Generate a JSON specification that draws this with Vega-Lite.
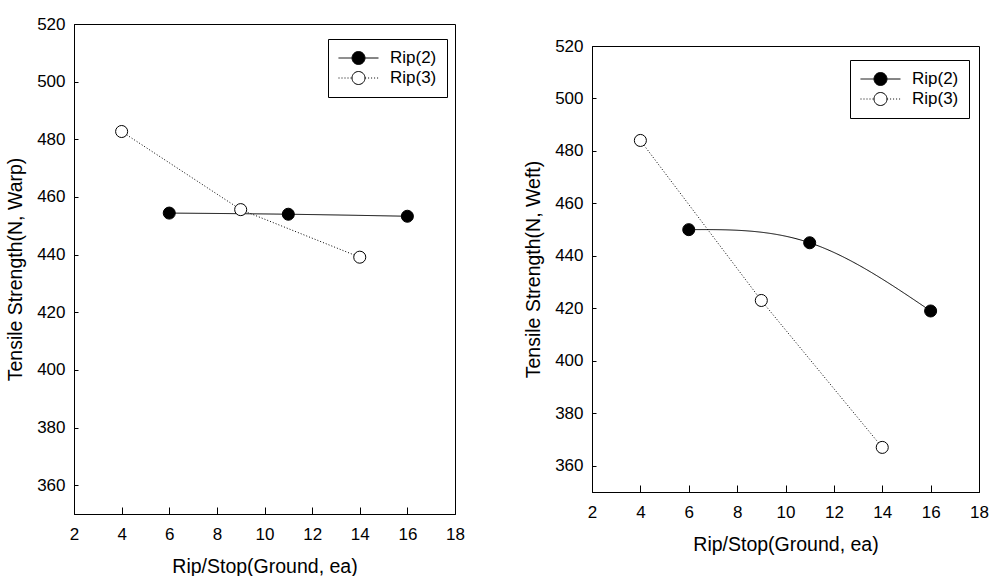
{
  "$schema": "https://vega.github.io/schema/vega-lite/v6.json",
  "padding": {"left": 5, "top": 14, "right": 0, "bottom": 0},
  "background": "white",
  "spacing": 58,
  "center": true,
  "config": {
    "view": {"stroke": "black", "strokeWidth": 1},
    "font": "Liberation Sans",
    "axis": {
      "grid": false,
      "domainColor": "black",
      "tickColor": "black",
      "labelColor": "black",
      "titleColor": "black",
      "labelFont": "Liberation Sans",
      "titleFont": "Liberation Sans",
      "labelFontSize": 17,
      "titleFontSize": 19.5,
      "titleFontWeight": "normal",
      "labelFlush": false,
      "labelOverlap": false
    },
    "axisX": {"tickSize": -7, "labelPadding": 19, "titlePadding": 15},
    "axisY": {"tickSize": -4, "labelPadding": 13, "titlePadding": 11},
    "legend": {
      "labelFont": "Liberation Sans",
      "labelFontSize": 17,
      "labelColor": "black",
      "symbolSize": 1600,
      "symbolStrokeWidth": 1,
      "symbolStrokeColor": "black",
      "symbolOpacity": 1,
      "clipHeight": 18,
      "rowPadding": 2,
      "labelOffset": 11,
      "padding": 10
    }
  },
  "resolve": {
    "scale": {"x": "independent", "y": "independent", "fill": "independent", "strokeDash": "independent"},
    "legend": {"fill": "independent", "strokeDash": "independent"}
  },
  "hconcat": [
    {
      "width": 381,
      "height": 490,
      "data": {"values": [
        {"x": 6, "y": 454.4, "series": "Rip(2)", "marker": "Rip(2)"},
        {"x": 11, "y": 454.0, "series": "Rip(2)", "marker": "Rip(2)"},
        {"x": 16, "y": 453.3, "series": "Rip(2)", "marker": "Rip(2)"},
        {"x": 4, "y": 482.7, "series": "Rip(3)", "marker": "Rip(3)"},
        {"x": 9, "y": 455.6, "series": "Rip(3)", "marker": "Rip(3)"},
        {"x": 14, "y": 439.1, "series": "Rip(3)", "marker": "Rip(3)"}
      ]},
      "encoding": {
        "x": {"field": "x", "type": "quantitative",
              "scale": {"domain": [2, 18], "nice": false, "zero": false},
              "axis": {"values": [2, 4, 6, 8, 10, 12, 14, 16, 18], "title": "Rip/Stop(Ground, ea)"}},
        "y": {"field": "y", "type": "quantitative",
              "scale": {"domain": [350, 520], "nice": false, "zero": false},
              "axis": {"values": [360, 380, 400, 420, 440, 460, 480, 500, 520], "title": "Tensile Strength(N, Warp)"}}
      },
      "layer": [
        {
          "transform": [{"filter": "datum.series === 'Rip(2)'"}],
          "mark": {"type": "line", "color": "black", "strokeWidth": 1, "interpolate": "natural"},
          "encoding": {
            "strokeDash": {"field": "series", "type": "nominal",
              "scale": {"range": [[1, 0], [1, 2]]},
              "legend": {"title": null, "orient": "none", "legendX": 254, "legendY": 15,
                         "symbolType": "M-1,0H-0.33M0.33,0H1", "strokeColor": "black"}}
          }
        },
        {
          "transform": [{"filter": "datum.series === 'Rip(3)'"}],
          "mark": {"type": "line", "color": "black", "strokeWidth": 1, "interpolate": "linear"},
          "encoding": {
            "strokeDash": {"field": "series", "type": "nominal"}
          }
        },
        {
          "mark": {"type": "point", "filled": true, "stroke": "black", "strokeWidth": 1, "size": 145, "opacity": 1},
          "encoding": {
            "fill": {"field": "marker", "type": "nominal",
              "scale": {"range": ["black", "white"]},
              "legend": {"title": null, "orient": "none", "legendX": 254, "legendY": 15,
                         "symbolType": "M0.325,0A0.325,0.325,0,1,1,-0.325,0A0.325,0.325,0,1,1,0.325,0Z",
                         "labelOpacity": 0}}
          }
        }
      ]
    },
    {
      "width": 387,
      "height": 446,
      "data": {"values": [
        {"x": 6, "y": 450, "series": "Rip(2)", "marker": "Rip(2)"},
        {"x": 11, "y": 445, "series": "Rip(2)", "marker": "Rip(2)"},
        {"x": 16, "y": 419, "series": "Rip(2)", "marker": "Rip(2)"},
        {"x": 4, "y": 484, "series": "Rip(3)", "marker": "Rip(3)"},
        {"x": 9, "y": 423, "series": "Rip(3)", "marker": "Rip(3)"},
        {"x": 14, "y": 367, "series": "Rip(3)", "marker": "Rip(3)"}
      ]},
      "encoding": {
        "x": {"field": "x", "type": "quantitative",
              "scale": {"domain": [2, 18], "nice": false, "zero": false},
              "axis": {"values": [2, 4, 6, 8, 10, 12, 14, 16, 18], "title": "Rip/Stop(Ground, ea)"}},
        "y": {"field": "y", "type": "quantitative",
              "scale": {"domain": [350, 520], "nice": false, "zero": false},
              "axis": {"values": [360, 380, 400, 420, 440, 460, 480, 500, 520], "title": "Tensile Strength(N, Weft)"}}
      },
      "layer": [
        {
          "transform": [{"filter": "datum.series === 'Rip(2)'"}],
          "mark": {"type": "line", "color": "black", "strokeWidth": 1, "interpolate": "natural"},
          "encoding": {
            "strokeDash": {"field": "series", "type": "nominal",
              "scale": {"range": [[1, 0], [1, 2]]},
              "legend": {"title": null, "orient": "none", "legendX": 258, "legendY": 14,
                         "symbolType": "M-1,0H-0.33M0.33,0H1", "strokeColor": "black"}}
          }
        },
        {
          "transform": [{"filter": "datum.series === 'Rip(3)'"}],
          "mark": {"type": "line", "color": "black", "strokeWidth": 1, "interpolate": "linear"},
          "encoding": {
            "strokeDash": {"field": "series", "type": "nominal"}
          }
        },
        {
          "mark": {"type": "point", "filled": true, "stroke": "black", "strokeWidth": 1, "size": 145, "opacity": 1},
          "encoding": {
            "fill": {"field": "marker", "type": "nominal",
              "scale": {"range": ["black", "white"]},
              "legend": {"title": null, "orient": "none", "legendX": 258, "legendY": 14,
                         "symbolType": "M0.325,0A0.325,0.325,0,1,1,-0.325,0A0.325,0.325,0,1,1,0.325,0Z",
                         "labelOpacity": 0}}
          }
        }
      ]
    }
  ]
}
